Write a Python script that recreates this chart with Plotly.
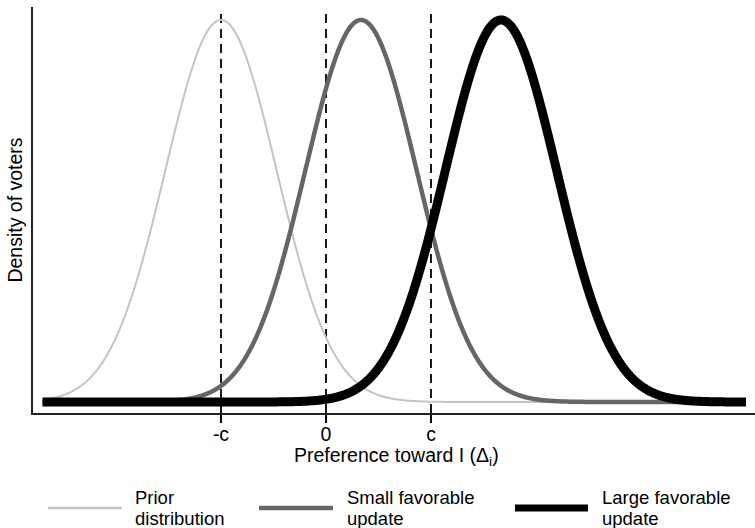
import numpy as np
import plotly.graph_objects as go

# ---- data ----
legend_line1 = ["Prior", "Small favorable", "Large favorable"]
legend_line2 = ["distribution", "update", "update"]
series_means = [-1.0, 1.0 / 3.0, 5.0 / 3.0]   # in units of c
series_sd = [0.53, 0.53, 0.53]
x_start, x_end = -2.7, 4.0
cutoffs = [-1.0, 0.0, 1.0]
tick_labels = ["-c", "0", "c"]
x_title = "Preference toward I (Δ<sub>i</sub>)"
y_title = "Density of voters"

colors = ["#c4c4c4", "#666666", "#000000"]
widths = [2, 4.5, 9]
legend_widths = [2.5, 4.5, 7]

x = np.linspace(x_start, x_end, 800)

fig = go.Figure()
for n1, n2, m, s, col, w in zip(legend_line1, legend_line2, series_means, series_sd, colors, widths):
    y = np.exp(-((x - m) ** 2) / (2 * s ** 2))
    fig.add_trace(go.Scatter(x=x, y=y, mode="lines", name=n1 + " " + n2,
                             line=dict(color=col, width=w, simplify=False), showlegend=False,
                             hoverinfo="skip"))

shapes = []
for c in cutoffs:
    shapes.append(dict(type="line", xref="x", yref="paper", x0=c, x1=c, y0=0, y1=0.997,
                       line=dict(color="black", width=1.8, dash="9px,6px"), layer="below"))

# manual legend (pixel positions converted to paper coords)
L, R, T, B = 33, 0, 7, 115
W, H = 755 - L - R, 528 - T - B
def px(xp):
    return (xp - L) / W
def py(yp):
    return (528 - B - yp) / H

FS = 19.5
LFS = 18.5
leg_line_x = [(48, 122), (259, 333), (515, 588)]
leg_text_x = [134, 346, 601]
annotations = []
for (a, b), tx, n1, n2, col, lw in zip(leg_line_x, leg_text_x, legend_line1, legend_line2, colors, legend_widths):
    shapes.append(dict(type="line", xref="paper", yref="paper", x0=px(a), x1=px(b),
                       y0=py(508), y1=py(508), line=dict(color=col, width=lw)))
    for txt, yc in ((n1, 497), (n2, 518)):
        annotations.append(dict(xref="paper", yref="paper", x=px(tx), y=py(yc),
                                xanchor="left", yanchor="middle", text=txt, showarrow=False,
                                align="left", borderpad=0,
                                font=dict(size=LFS, color="black")))

# x-axis title placed as annotation for exact vertical position
annotations.append(dict(xref="paper", yref="paper", x=px(396), y=py(456),
                        xanchor="center", yanchor="middle", text=x_title, showarrow=False,
                        borderpad=0, font=dict(size=FS, color="black")))

fig.update_layout(
    width=755, height=528,
    margin=dict(l=L, r=R, t=T, b=B),
    plot_bgcolor="white", paper_bgcolor="white",
    font=dict(family="Liberation Sans, Arial, sans-serif", size=FS, color="black"),
    shapes=shapes, annotations=annotations,
    xaxis=dict(range=[(33 - 326) / 105, (755 - 326) / 105], showgrid=False, zeroline=False,
               showline=True, linecolor="#222222", linewidth=1.5,
               tickmode="array", tickvals=cutoffs, ticktext=tick_labels,
               ticks="outside", ticklen=8, tickwidth=1.5, tickcolor="black",
               tickfont=dict(size=FS), ticklabelstandoff=-5,
               automargin=False),
    yaxis=dict(range=[-0.0288, 1.034], showgrid=False, zeroline=False,
               showline=True, linecolor="#222222", linewidth=1.5,
               showticklabels=False, ticks="",
               title=dict(text=y_title, font=dict(size=FS), standoff=3),
               automargin=False),
)

fig.write_html("out.html")
